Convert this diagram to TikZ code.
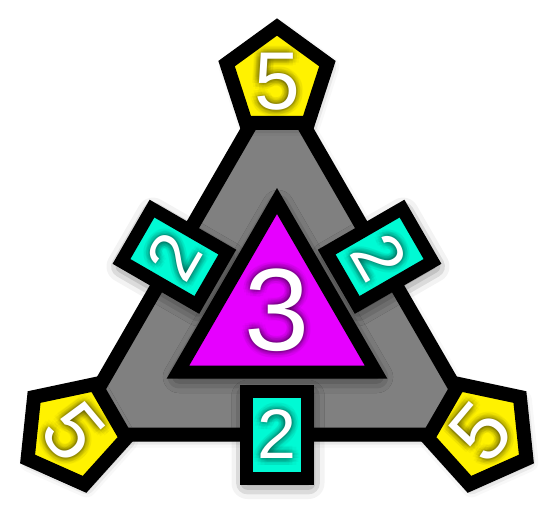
\documentclass[tikz,border=0pt]{standalone}
\usepackage{fontspec}
\setmainfont{Liberation Sans}
\usetikzlibrary{shapes.geometric,shadows.blur,calc}
\definecolor{tgray}{RGB}{128,128,128}
\definecolor{tmag}{RGB}{230,0,255}
\definecolor{tyel}{RGB}{255,242,0}
\definecolor{tcyan}{RGB}{0,250,212}
\newcommand\glowdigit[5]{%
  \foreach \i/\rr in {1/2,2/4.5,3/7}{\foreach \a in {0,30,...,330}{
    \node[text=black, opacity=0.032, rotate=#3, inner sep=0pt] (#1-g-\i-\a)
      at ($(#2)+(\a:\rr)$) {\fontsize{#4}{#4}\selectfont #5};}}
  \node[text=white, rotate=#3, inner sep=0pt] (#1) at (#2) {\fontsize{#4}{#4}\selectfont #5};}
\begin{document}
\begin{tikzpicture}[x=1pt,y=-1pt,
  softshadow/.style={blur shadow={shadow xshift=2pt, shadow yshift=-3pt, shadow blur radius=10pt, shadow opacity=45}},
  darkshadow/.style={blur shadow={shadow xshift=1pt, shadow yshift=-5pt, shadow blur radius=16pt, shadow opacity=75}},
  pent/.style={regular polygon, regular polygon sides=5, minimum size=106pt, inner sep=0pt,
    draw=black, line width=14pt, fill=tyel, softshadow},
  rbox/.style={rectangle, minimum width=61pt, minimum height=87pt, inner sep=0pt,
    draw=black, line width=13pt, fill=tcyan, darkshadow}]
\useasboundingbox (0,0) rectangle (554,512);
% gray triangle
\coordinate (gt) at (277,79);
\coordinate (gl) at (71.8,434.5);
\coordinate (gr) at (482.2,434.5);
\draw[fill=tgray, draw=black, line width=14pt, line join=miter, softshadow] (gt) -- (gl) -- (gr) -- cycle;
% magenta triangle
\coordinate (mt) at (277,201);
\coordinate (ml) at (178,372);
\coordinate (mr) at (376,372);
\draw[fill=tmag, draw=black, line width=13pt, line join=miter, darkshadow] (mt) -- (ml) -- (mr) -- cycle;
% rectangles
\node[rbox, rotate=60] (r1) at ($(gt)!0.5!(gl)$) {};
\node[rbox, rotate=-60] (r2) at ($(gt)!0.5!(gr)$) {};
\node[rbox] (r3) at ($(gl)!0.5!(gr)$) {};
% pentagons
\node[pent] (p1) at (277,80) {};
\node[pent, rotate=120] (p2) at (73.5,432.5) {};
\node[pent, rotate=-120] (p3) at (480.5,432.5) {};
% digits
\glowdigit{d3}{277,310}{0}{117}{3}
\glowdigit{d51}{277,82}{0}{82}{5}
\glowdigit{d52}{p2}{-50}{82}{5}
\glowdigit{d53}{p3}{50}{82}{5}
\glowdigit{d21}{r1}{60}{70}{2}
\glowdigit{d22}{r2}{-60}{70}{2}
\glowdigit{d23}{r3}{0}{70}{2}
\end{tikzpicture}
\end{document}
